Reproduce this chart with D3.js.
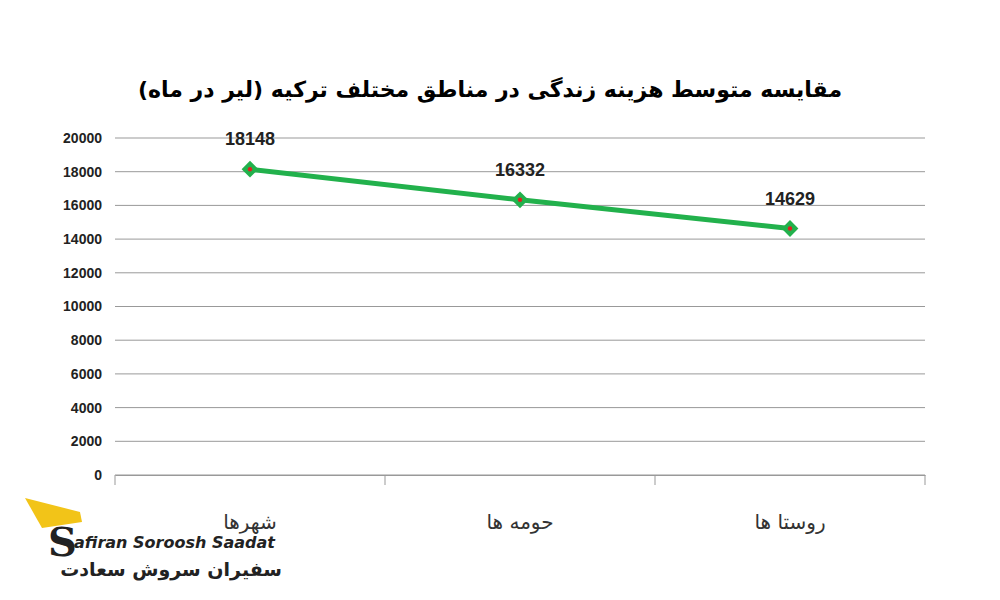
<!DOCTYPE html>
<html><head><meta charset="utf-8">
<script src="https://cdn.jsdelivr.net/npm/d3@7"></script>
<style>body{margin:0;background:#fff}</style>
</head><body>
<script>
'use strict';
// données
const categories = ["شهرها", "حومه ها", "روستا ها"];
const valeurs = [18148, 16332, 14629];
const ticks = [0, 2000, 4000, 6000, 8000, 10000, 12000, 14000, 16000, 18000, 20000];

const svg = d3.select("body").append("svg")
  .attr("width", 1000).attr("height", 600);

const x = d3.scaleBand().domain(categories).range([115, 925]);
const y = d3.scaleLinear().domain([0, 20000]).range([475, 138]);

// titre
svg.append("text")
  .attr("x", 490).attr("y", 97)
  .attr("text-anchor", "middle")
  .style("font", "bold 22px 'DejaVu Sans', sans-serif")
  .attr("direction", "rtl")
  .text("مقایسه متوسط هزینه زندگی در مناطق مختلف ترکیه (لیر در ماه)");

// grille
svg.append("g").selectAll("line").data(ticks).enter().append("line")
  .attr("x1", 115).attr("x2", 925)
  .attr("y1", d => y(d)).attr("y2", d => y(d))
  .style("stroke", "#999").style("stroke-width", 1);

// axe Y
const axeY = svg.append("g").attr("transform", "translate(110,0)")
  .call(d3.axisLeft(y).tickValues(ticks).tickSize(0).tickPadding(8).tickFormat(d3.format("d")));
axeY.select(".domain").remove();
axeY.selectAll("text").style("font", "bold 14px 'Liberation Sans', Arial, sans-serif").style("fill", "#222");

// axe X
const axeX = svg.append("g").attr("transform", "translate(0,475)")
  .call(d3.axisBottom(x).tickSize(0).tickPadding(40));
axeX.select(".domain").style("stroke", "#999");
axeX.selectAll("text").style("font", "20px 'DejaVu Sans', sans-serif").style("fill", "#333");
const bords = [115].concat(categories.map(c => x(c) + x.bandwidth()));
svg.append("g").selectAll("line").data(bords).enter().append("line")
  .attr("x1", d => d).attr("x2", d => d).attr("y1", 475).attr("y2", 485)
  .style("stroke", "#999");

// ligne
const cx = (d, i) => x(categories[i]) + x.bandwidth() / 2;
svg.append("path").datum(valeurs)
  .attr("d", d3.line().x(cx).y(d => y(d)))
  .style("fill", "none").style("stroke", "#22b14c").style("stroke-width", 5);

svg.append("g").selectAll("path").data(valeurs).enter().append("path")
  .attr("d", d3.symbol(d3.symbolDiamond2, 180))
  .attr("transform", (d, i) => `translate(${cx(d, i)},${y(d)})`)
  .style("fill", "#22b14c");
svg.append("g").selectAll("circle").data(valeurs).enter().append("circle")
  .attr("cx", cx).attr("cy", d => y(d)).attr("r", 2.2).style("fill", "#e02020");

svg.append("g").selectAll("text").data(valeurs).enter().append("text")
  .attr("x", cx).attr("y", d => y(d) - 24)
  .attr("text-anchor", "middle")
  .style("font", "bold 18px 'Liberation Sans', Arial, sans-serif").style("fill", "#222")
  .text(d => d);

// logo
const logo = svg.append("g");
logo.append("path").attr("d", "M25 498 L80 512 L82 522 L42 528 Z").style("fill", "#f2c418");
logo.append("text").attr("x", 48).attr("y", 556)
  .style("font", "bold 40px 'DejaVu Serif', serif").style("fill", "#222").text("S");
logo.append("text").attr("x", 74).attr("y", 548)
  .style("font", "bold italic 16px 'DejaVu Sans', sans-serif").style("fill", "#222")
  .text("afiran Soroosh Saadat");
logo.append("text").attr("x", 282).attr("y", 576).attr("text-anchor", "end")
  .style("font", "bold 19px 'DejaVu Sans', sans-serif").style("fill", "#222")
  .text("سفیران سروش سعادت");
</script>
</body></html>
